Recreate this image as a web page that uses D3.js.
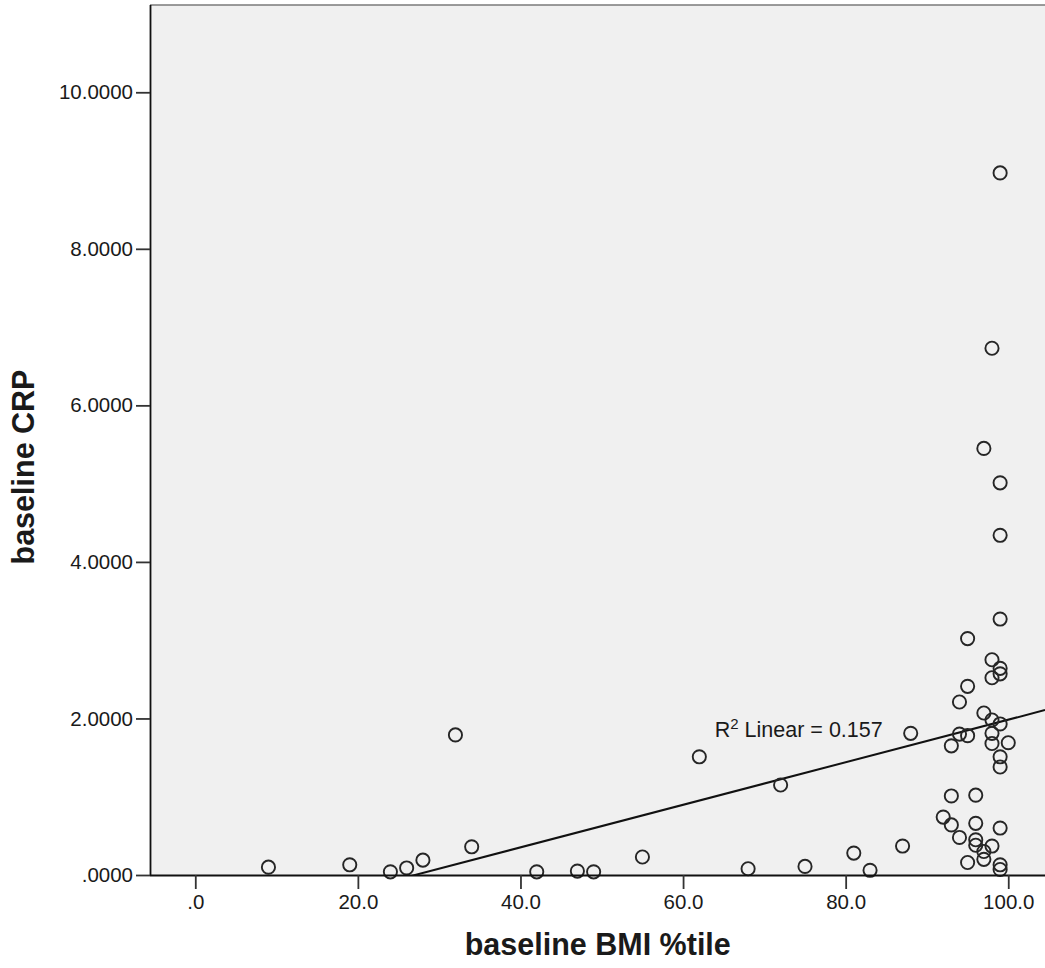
<!DOCTYPE html>
<html>
<head>
<meta charset="utf-8">
<script src="https://cdn.jsdelivr.net/npm/d3@7"></script>
<style>
  html, body { margin: 0; padding: 0; background: #ffffff; }
  svg { display: block; }
  text { font-family: "Liberation Sans", Arial, sans-serif; fill: #1a1a1a; }
</style>
</head>
<body>
<svg id="chart" width="1045" height="968"></svg>
<script>
// baseline BMI percentile for each subject
const bmiPct = [
  9, 19, 24, 26, 28, 32, 34, 42, 47, 49,
  55, 62, 68, 72, 75, 81, 83, 87, 88, 92,
  93, 93, 93, 94, 94, 94, 95, 95, 95, 95,
  96, 96, 96, 96, 97, 97, 97, 97, 98, 98,
  98, 98, 98, 98, 98, 99, 99, 99, 99, 99,
  99, 99, 99, 99, 99, 99, 99, 100
];
// baseline CRP for the same subjects
const crp = [
  0.10, 0.13, 0.04, 0.09, 0.19, 1.79, 0.36, 0.04, 0.05, 0.04,
  0.23, 1.51, 0.08, 1.15, 0.11, 0.28, 0.06, 0.37, 1.81, 0.74,
  1.01, 0.64, 1.65, 2.21, 1.80, 0.48, 3.02, 2.41, 1.78, 0.16,
  1.02, 0.66, 0.45, 0.38, 5.45, 2.07, 0.30, 0.20, 6.73, 2.75,
  2.52, 1.98, 1.81, 1.68, 0.37, 8.97, 5.01, 4.34, 3.27, 2.64,
  2.57, 1.93, 1.51, 1.38, 0.60, 0.13, 0.07, 1.69
];
const xTicks = [0, 20, 40, 60, 80, 100];
const yTicks = [0, 2, 4, 6, 8, 10];
const xTitle = "baseline BMI %tile";
const yTitle = "baseline CRP";
const r2Text = "0.157";

const svg = d3.select("#chart");
const plot = { left: 150, right: 1045, top: 5, bottom: 875 };

const x = d3.scaleLinear().domain([-5.57, 104.52]).range([plot.left, plot.right]);
const y = d3.scaleLinear().domain([0, 11.115]).range([plot.bottom, plot.top]);

// plot background
svg.append("rect")
  .attr("x", plot.left).attr("y", plot.top)
  .attr("width", plot.right - plot.left).attr("height", plot.bottom - plot.top)
  .attr("fill", "#f0f0f0");

// top frame line
svg.append("line")
  .attr("x1", plot.left).attr("x2", plot.right)
  .attr("y1", plot.top).attr("y2", plot.top)
  .attr("stroke", "#7a7a7a").attr("stroke-width", 1.5);

svg.append("clipPath").attr("id", "plotClip")
  .append("rect")
  .attr("x", plot.left).attr("y", plot.top)
  .attr("width", plot.right - plot.left).attr("height", plot.bottom - plot.top);

// least-squares fit line
const data = bmiPct.map((v, i) => ({ x: v, y: crp[i] }));
const mx = d3.mean(data, d => d.x), my = d3.mean(data, d => d.y);
const sxy = d3.sum(data, d => (d.x - mx) * (d.y - my));
const sxx = d3.sum(data, d => (d.x - mx) * (d.x - mx));
const slope = sxy / sxx, intercept = my - slope * mx;
const [x0, x1] = x.domain();

svg.append("line")
  .attr("clip-path", "url(#plotClip)")
  .attr("x1", x(x0)).attr("y1", y(intercept + slope * x0))
  .attr("x2", x(x1)).attr("y2", y(intercept + slope * x1))
  .attr("stroke", "#111").attr("stroke-width", 2);

// points
svg.append("g")
  .selectAll("circle")
  .data(data)
  .join("circle")
  .attr("cx", d => x(d.x))
  .attr("cy", d => y(d.y))
  .attr("r", 6.6)
  .attr("fill", "none")
  .attr("stroke", "#262626")
  .attr("stroke-width", 1.9);

// fit label
const lab = svg.append("text")
  .attr("x", x(63.9)).attr("y", y(1.767))
  .attr("font-size", 21.5);
lab.append("tspan").text("R");
lab.append("tspan").attr("font-size", 15).attr("dy", -8).text("2");
lab.append("tspan").attr("dy", 8).text(" Linear = " + r2Text);

// x axis
const xAxis = svg.append("g")
  .attr("transform", `translate(0,${plot.bottom})`)
  .call(d3.axisBottom(x).tickValues(xTicks).tickSize(14).tickPadding(5)
    .tickFormat(d => d === 0 ? ".0" : d3.format(".1f")(d)));
xAxis.select(".domain").attr("stroke", "#111").attr("stroke-width", 1.8)
  .attr("d", `M${plot.left},0.5H${plot.right}`);
xAxis.selectAll(".tick line").attr("stroke", "#333").attr("stroke-width", 1.8);
xAxis.selectAll(".tick text").attr("font-size", 20.5).attr("fill", "#1a1a1a")
  .attr("font-family", "Liberation Sans, Arial, sans-serif");

// y axis
const yAxis = svg.append("g")
  .attr("transform", `translate(${plot.left},0)`)
  .call(d3.axisLeft(y).tickValues(yTicks).tickSize(14).tickPadding(3)
    .tickFormat(d => d === 0 ? ".0000" : d3.format(".4f")(d)));
yAxis.select(".domain").attr("stroke", "#111").attr("stroke-width", 1.8)
  .attr("d", `M0.5,${plot.top}V${plot.bottom}`);
yAxis.selectAll(".tick line").attr("stroke", "#333").attr("stroke-width", 1.8);
yAxis.selectAll(".tick text").attr("font-size", 20.5).attr("fill", "#1a1a1a")
  .attr("font-family", "Liberation Sans, Arial, sans-serif");

// axis titles
svg.append("text")
  .attr("x", (x(0) + x(100)) / 2 - 4).attr("y", 955)
  .attr("text-anchor", "middle")
  .attr("font-size", 30.5).attr("font-weight", "bold")
  .text(xTitle);

svg.append("text")
  .attr("transform", `translate(34,${(plot.top + plot.bottom) / 2 + 27}) rotate(-90)`)
  .attr("text-anchor", "middle")
  .attr("font-size", 30.5).attr("font-weight", "bold")
  .text(yTitle);
</script>
</body>
</html>
